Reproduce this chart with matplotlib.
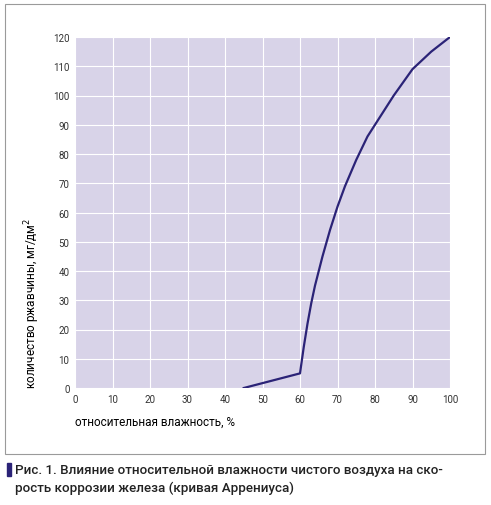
import matplotlib.pyplot as plt
from matplotlib.patches import Rectangle

humidity = [45, 60, 61, 62, 63, 64, 66, 68, 70, 72, 75, 78, 80, 85, 90, 95, 100]
rust = [0, 5, 14, 22, 29, 35, 45, 54, 62, 69, 78, 86, 90, 100, 109, 115, 120]

plt.rcParams['font.family'] = ['Roboto', 'DejaVu Sans']

fig = plt.figure(figsize=(4.91, 5.06), dpi=100)
ax = fig.add_axes([75/491, 1-389/506, 375/491, 351/506])

# outer frame around the chart
fig.patches.append(Rectangle((5/491, 1-455/506), 480/491, 450/506, transform=fig.transFigure,
                             fill=False, edgecolor='#9a9a9a', lw=0.8))

ax.set_facecolor('#d8d3e8')
ax.plot(humidity, rust, color='#2b2377', lw=1.6, zorder=3)
ax.set_xlim(0, 100)
ax.set_ylim(0, 120)
ax.set_xticks(range(0, 101, 10))
ax.set_yticks(range(0, 121, 10))
ax.grid(color='white', lw=0.8)
ax.set_axisbelow(True)
for s in ax.spines.values():
    s.set_visible(False)
ax.tick_params(length=0, labelsize=7, colors='#333333', pad=4)
ax.set_xlabel('относительная влажность, %', fontsize=8.5, loc='left', labelpad=8)
ax.set_ylabel('количество ржавчины, мг/дм$^2$', fontsize=8.5, loc='bottom', labelpad=8)

fig.patches.append(Rectangle((7/491, 1-477/506), 4/491, 13/506, transform=fig.transFigure,
                             color='#2b2377'))
fig.text(15/491, 1-474/506, 'Рис. 1. Влияние относительной влажности чистого воздуха на ско-',
         fontsize=9.6, va='baseline', color='#222222', fontweight='medium')
fig.text(15/491, 1-492/506, 'рость коррозии железа (кривая Аррениуса)',
         fontsize=9.6, va='baseline', color='#222222', fontweight='medium')

fig.savefig('out.png', dpi=100)
